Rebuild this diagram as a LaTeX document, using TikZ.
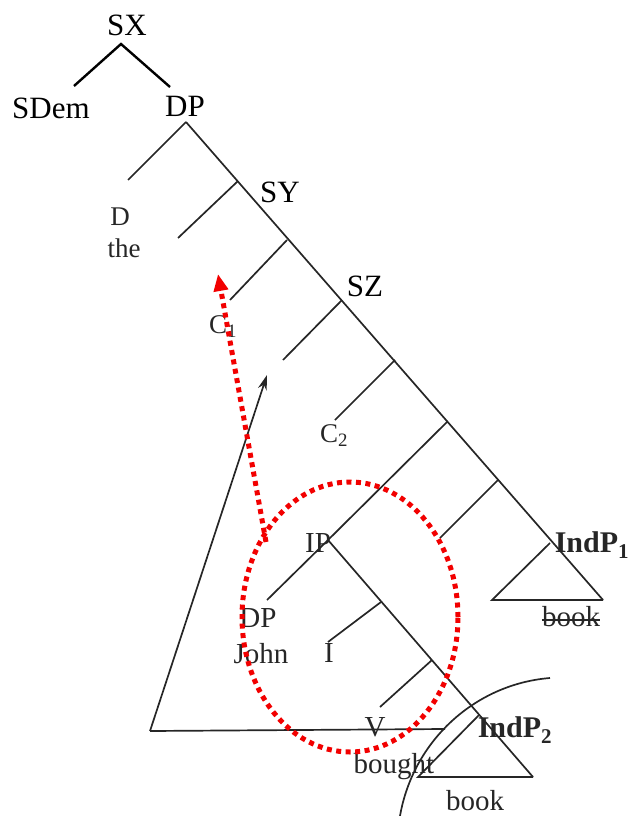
\documentclass[tikz,border=0pt]{standalone}
\usepackage{fontspec}
\setmainfont{Liberation Serif}
\usetikzlibrary{arrows.meta}
\definecolor{scan}{HTML}{262626}
\definecolor{rdot}{HTML}{F20000}
\tikzset{
  topline/.style={draw=black, line width=2.4pt},
  tree/.style={draw=scan, line width=1.7pt},
  reddot/.style={draw=rdot, line width=5pt, dash pattern=on 5pt off 4.5pt},
  lbl/.style={inner sep=0pt, text=black, font=\fontsize{31}{36}\selectfont},
  slbl/.style={inner sep=0pt, text=scan, font=\fontsize{29}{34}\selectfont},
  sml/.style={inner sep=0pt, text=scan, font=\fontsize{27}{32}\selectfont},
  bl/.style={inner sep=0pt, text=scan, font=\fontsize{30}{34}\selectfont\bfseries},
}
\begin{document}
\begin{tikzpicture}[x=1pt,y=-1pt]
\useasboundingbox (0,0) rectangle (632,816);
% --- top part
\coordinate (SXa) at (121,44);
\coordinate (SXl) at (74,86);
\coordinate (SXr) at (170,87);
\node[lbl] (sx) at (127,25) {SX};
\node[lbl] (sdem) at (51,108) {SDem};
\node[lbl] (dptop) at (185,106) {DP};
\draw[topline] (SXl) -- (SXa) -- (SXr);
% --- spine
\coordinate (P0) at (186,122);
\coordinate (P1) at (238,181);
\coordinate (P2) at (287,240);
\coordinate (P3) at (342,300);
\coordinate (P4) at (395,360);
\coordinate (P5) at (447,422);
\coordinate (P6) at (498,480);
\coordinate (P7) at (550,543);
\coordinate (P8) at (603,600);
\coordinate (L0) at (128,180);
\coordinate (L1) at (178,238);
\coordinate (L2) at (230,300);
\coordinate (L3) at (283,360);
\coordinate (L4) at (335,420);
\coordinate (IPa) at (328,540);
\coordinate (L5) at (267,600);
\coordinate (L6) at (440,538);
\coordinate (T1l) at (492,600);
\draw[tree] (P0) -- (P8);
\draw[tree] (P0) -- (L0);
\draw[tree] (P1) -- (L1);
\draw[tree] (P2) -- (L2);
\draw[tree] (P3) -- (L3);
\draw[tree] (P4) -- (L4);
\draw[tree] (P5) -- (IPa) -- (L5);
\draw[tree] (P6) -- (L6);
\draw[tree] (P7) -- (T1l) -- (P8);
% --- IP subtree
\coordinate (Q1) at (381,602);
\coordinate (Q2) at (432,660);
\coordinate (Q3) at (479,715);
\coordinate (Q4) at (533,777);
\coordinate (M1) at (328,642);
\coordinate (M2) at (380,707);
\coordinate (T2l) at (418,777);
\draw[tree] (IPa) -- (Q4);
\draw[tree] (Q1) -- (M1);
\draw[tree] (Q2) -- (M2);
\draw[tree] (Q3) -- (T2l) -- (Q4);
% --- movement triangle
\coordinate (tl) at (150,731);
\coordinate (tr) at (445,729);
\coordinate (tt) at (267,375);
\draw[tree] (tl) -- (tr);
\draw[tree, -{Stealth[length=15pt,width=9pt]}] (tl) -- (tt);
% --- arc
\coordinate (a1) at (400,816);
\coordinate (a2) at (550,678);
\draw[tree] (a1) .. controls (413,741) and (475,684) .. (a2);
% --- labels
\node[sml] (d) at (120,217) {D};
\node[sml] (the) at (124,248) {the};
\node[lbl, text=black] (sy) at (280,192) {SY};
\node[sml] (c1) at (223,327) {C\textsubscript{1}};
\node[lbl, text=black] (sz) at (365,286) {SZ};
\node[sml] (c2) at (334,436) {C\textsubscript{2}};
\node[slbl] (ip) at (318,543) {IP};
\node[slbl] (dpj) at (258,618) {DP};
\node[slbl] (john) at (261,654) {John};
\node[slbl] (i) at (329,653) {I};
\node[slbl] (v) at (375,727) {V};
\node[slbl] (bought) at (394,767) {bought};
\node[bl] (ind1) at (592,545) {IndP\textsubscript{1}};
\node[bl] (ind2) at (515,730) {IndP\textsubscript{2}};
\node[slbl] (bk1) at (571,617) {book};
\draw[scan, line width=1.4pt] ([yshift=-3pt]bk1.west) -- ([yshift=-3pt]bk1.east);
\node[slbl] (bk2) at (475,801) {book};
% --- red dotted ellipse and arrow
\node[draw=none, inner sep=0pt] (ec) at (350,617) {};
\draw[reddot] (ec) ellipse [x radius=108pt, y radius=135pt];
\coordinate (rs) at (266,542);
\coordinate (rt) at (218,274);
\draw[reddot, -{Triangle[length=17pt,width=14pt]}] (rs) -- (rt);
\end{tikzpicture}
\end{document}
